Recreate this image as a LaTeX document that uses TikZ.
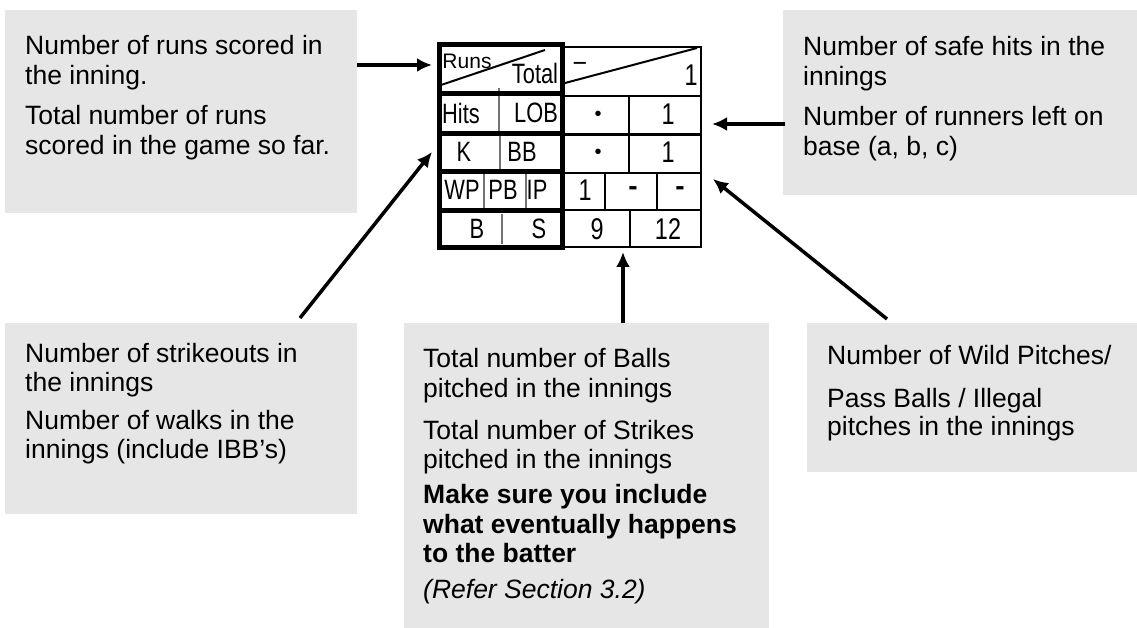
\documentclass[tikz,border=0pt]{standalone}
\usepackage{fontspec}
\setmainfont{Liberation Sans}
\newfontfamily\narrowfont{Liberation Sans}[FakeStretch=0.78]
\usetikzlibrary{arrows.meta}
\definecolor{boxgray}{RGB}{230,230,230}
\tikzset{
  box/.style={fill=boxgray, draw=none, inner sep=0pt, outer sep=0pt, anchor=north west},
  txt/.style={anchor=base west, inner sep=0pt, font=\fontsize{26.5}{30}\selectfont},
  btxt/.style={anchor=base west, inner sep=0pt, font=\fontsize{26.5}{30}\selectfont\bfseries},
  itxt/.style={anchor=base west, inner sep=0pt, font=\fontsize{26.5}{30}\selectfont\itshape},
  cell/.style={inner sep=0pt, font=\narrowfont\fontsize{28}{30}\selectfont},
  smallcell/.style={inner sep=0pt, font=\fontsize{21}{24}\selectfont},
  num/.style={inner sep=0pt, font=\narrowfont\fontsize{30}{32}\selectfont},
  dot/.style={inner sep=0pt, font=\fontsize{20}{20}\selectfont},
  bar/.style={inner sep=0pt, font=\fontsize{28}{30}\selectfont\bfseries},
  thickrule/.style={line width=5pt},
  thinrule/.style={line width=2.5pt},
  divider/.style={line width=2pt, draw=black!55},
  diag/.style={line width=2pt},
  pointer/.style={line width=3.5pt, -{Latex[length=15pt,width=14pt]}}
}
\begin{document}
\begin{tikzpicture}[x=1pt,y=-1pt]
\useasboundingbox (0,0) rectangle (1137,628);

% ---------- boxes ----------
\node[box, minimum width=352pt, minimum height=203pt] (tl) at (5,10) {};
\node[box, minimum width=354pt, minimum height=185pt] (tr) at (783,10) {};
\node[box, minimum width=352pt, minimum height=191pt] (bl) at (5,323) {};
\node[box, minimum width=365pt, minimum height=305pt] (bc) at (404,323) {};
\node[box, minimum width=330pt, minimum height=149pt] (br) at (807,323) {};

% ---------- box texts ----------
\node[txt] (tl1) at (25,55) {Number of runs scored in};
\node[txt] (tl2) at (25,85) {the inning.};
\node[txt] (tl3) at (25,125) {Total number of runs};
\node[txt] (tl4) at (25,155) {scored in the game so far.};

\node[txt] (tr1) at (803,56) {Number of safe hits in the};
\node[txt] (tr2) at (803,86) {innings};
\node[txt] (tr3) at (803,126) {Number of runners left on};
\node[txt] (tr4) at (803,156) {base (a, b, c)};

\node[txt] (bl1) at (25,362) {Number of strikeouts in};
\node[txt] (bl2) at (25,391) {the innings};
\node[txt] (bl3) at (25,429) {Number of walks in the};
\node[txt] (bl4) at (25,458) {innings (include IBB’s)};

\node[txt] (bc1) at (423,367) {Total number of Balls};
\node[txt] (bc2) at (423,397) {pitched in the innings};
\node[txt] (bc3) at (423,439) {Total number of Strikes};
\node[txt] (bc4) at (423,468) {pitched in the innings};
\node[btxt] (bc5) at (423,503) {Make sure you include};
\node[btxt] (bc6) at (423,533) {what eventually happens};
\node[btxt] (bc7) at (423,562) {to the batter};
\node[itxt] (bc8) at (423,598) {(Refer Section 3.2)};

\node[txt] (br1) at (827,364) {Number of Wild Pitches/};
\node[txt] (br2) at (827,407) {Pass Balls / Illegal};
\node[txt] (br3) at (827,435) {pitches in the innings};

% ---------- table: right column ----------
\draw[thinrule] (562.5,47) rectangle (701,247);
\foreach \yy in {96,134.5,173,210} \draw[thinrule] (562.5,\yy) -- (701,\yy);
\draw[thinrule] (629,96) -- (629,173);
\draw[thinrule] (605,173) -- (605,210);
\draw[thinrule] (657,173) -- (657,210);
\draw[thinrule] (630,210) -- (630,247);
\draw[diag] (565,83) -- (697,48);

% ---------- table: left column ----------
\draw[divider] (499,88) -- (499,93);
\draw[divider] (499,93.5) -- (499,134);
\draw[divider] (500,134) -- (500,172);
\draw[divider] (484,172) -- (484,210.5);
\draw[divider] (526,172) -- (526,210.5);
\draw[divider] (502,214) -- (502,244);
\draw[diag] (441,85) -- (545,50);
\draw[thickrule] (439.5,44.5) rectangle (562.5,248);
\foreach \yy in {93.5,134,172,210.5} \draw[thickrule] (439.5,\yy) -- (562.5,\yy);

% ---------- table texts ----------
\node[smallcell] (runs) at (467,61) {Runs};
\node[cell] (total) at (535,73) {Total};
\node[cell] (dash1) at (580,66) {–};
\node[num] (tot1) at (691,75) {1};
\node[cell] (hits) at (461,113) {Hits};
\node[cell] (lob) at (536,113) {LOB};
\node[dot] (b1) at (598,116) {•};
\node[num] (lob1) at (668,114) {1};
\node[cell] (k) at (464,152) {K};
\node[cell] (bb) at (522,152) {BB};
\node[dot] (b2) at (598,154) {•};
\node[num] (bb1) at (668,152) {1};
\node[cell] (wp) at (462,190) {WP};
\node[cell] (pb) at (503,190) {PB};
\node[cell] (ip) at (537,190) {IP};
\node[num] (wp1) at (585,190) {1};
\node[bar] (pbd) at (633,191) {-};
\node[bar] (ipd) at (680,191) {-};
\node[cell] (bl) at (477,229) {B};
\node[cell] (sl) at (539,229) {S};
\node[num] (b9) at (597,229) {9};
\node[num] (s12) at (668,229) {12};

% ---------- connector end points ----------
\coordinate (runsT) at (432,65);
\coordinate (kT) at (432,152);
\coordinate (bsT) at (623,252);
\coordinate (lobT) at (712,124);
\coordinate (wpT) at (713,179);
\coordinate (a1s) at (357,65);
\coordinate (a2s) at (300,318);
\coordinate (a3s) at (623,323);
\coordinate (a4s) at (785,124);
\coordinate (a5s) at (887,319);

\draw[pointer] (a1s) -- (runsT);
\draw[pointer] (a2s) -- (kT);
\draw[pointer] (a3s) -- (bsT);
\draw[pointer] (a4s) -- (lobT);
\draw[pointer] (a5s) -- (wpT);
\end{tikzpicture}
\end{document}
